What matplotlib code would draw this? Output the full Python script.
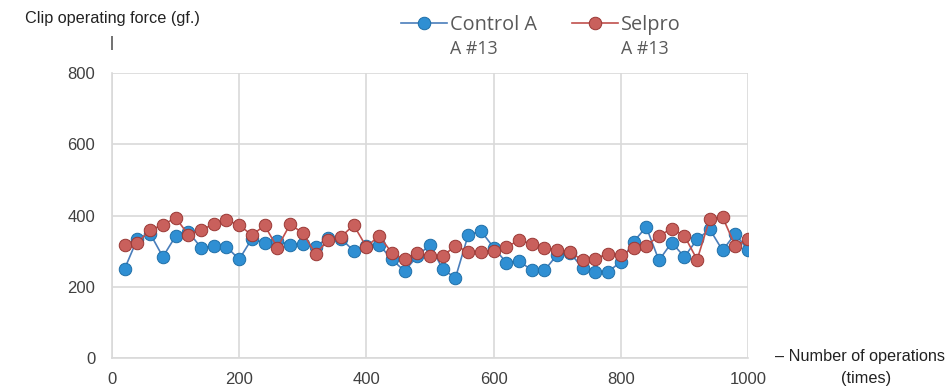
import numpy as np
import matplotlib.pyplot as plt

# number of operations, every 20 times
ops = np.arange(20, 1001, 20)

# clip operating force (gf.)
control_a = [251, 335, 349, 284, 342, 354, 310, 314, 312, 277,
             335, 323, 329, 318, 321, 312, 338, 335, 301, 315,
             318, 277, 244, 286, 318, 249, 225, 345, 357, 310,
             268, 273, 246, 246, 290, 296, 252, 242, 242, 270,
             326, 368, 274, 324, 284, 333, 361, 302, 349, 302]
selpro_a = [316, 323, 360, 373, 394, 346, 360, 375, 387, 373,
            345, 372, 310, 375, 351, 293, 330, 340, 373, 312,
            343, 295, 277, 296, 286, 286, 315, 298, 298, 301,
            312, 330, 321, 309, 304, 298, 274, 279, 293, 288,
            309, 315, 343, 363, 343, 276, 391, 396, 314, 333]

blue = "#2f8fd3"
blue_line = "#4a7ebb"
red = "#c0504d"

fig = plt.figure(figsize=(9.49, 3.92), dpi=100)
ax = fig.add_axes([112/949, 1-358/392, (748-112)/949, (358-73)/392])

l1, = ax.plot(ops, control_a, "-o", color=blue_line, lw=1.2, ms=9,
              mfc=blue, mec="#1f6fa8", mew=0.7, zorder=3)
l2, = ax.plot(ops, selpro_a, "-o", color=red, lw=1.2, ms=9,
              mfc="#c9605c", mec="#9a3835", mew=0.7, zorder=3)

ax.set_xlim(0, 1000)
ax.set_ylim(0, 800)
ax.set_xticks(range(0, 1001, 200))
ax.set_yticks(range(0, 801, 200))
ax.grid(True, color="#d9d9d9", lw=1.2)
ax.set_axisbelow(True)
for s in ["top", "right"]:
    ax.spines[s].set_visible(False)
for s in ["left", "bottom"]:
    ax.spines[s].set_color("#d9d9d9")
    ax.spines[s].set_linewidth(1.2)
ax.tick_params(length=0, labelsize=12, colors="#404040")
ax.tick_params(axis="y", pad=12)
ax.tick_params(axis="x", pad=10)
for t in ax.get_xticklabels() + ax.get_yticklabels():
    t.set_family("Liberation Sans")

# legend on top, one entry each, second line drawn as text
for h, lab, x0 in [(l1, "Control A", 401), (l2, "Selpro", 572)]:
    leg = fig.legend([h], [lab], loc="center left",
                     bbox_to_anchor=(x0/949, 1-25/392), frameon=False,
                     borderpad=0, borderaxespad=0, handlelength=2.3,
                     handletextpad=0.15,
                     prop={"family": "Open Sans", "size": 14.3})
    leg.get_texts()[0].set_color("#595959")
fig.text(450/949, 1-49/392, "A #13", fontsize=12.8, color="#595959",
         family="Open Sans", va="center")
fig.text(621/949, 1-49/392, "A #13", fontsize=12.8, color="#595959",
         family="Open Sans", va="center")

# axis titles
fig.text(25/949, 1-18/392, "Clip operating force (gf.)", fontsize=11.7,
         family="Liberation Sans", va="center", color="#222222")
fig.text(112/949, 1-43/392, "|", fontsize=11, family="Liberation Sans",
         va="center", ha="center", color="#222222")
fig.text(860/949, 1-357/392, "– Number of operations", fontsize=11.7,
         family="Liberation Sans", va="center", ha="center", color="#222222")
fig.text(866/949, 1-379/392, "(times)", fontsize=11.7,
         family="Liberation Sans", va="center", ha="center", color="#222222")

fig.savefig("out.png", dpi=100)
